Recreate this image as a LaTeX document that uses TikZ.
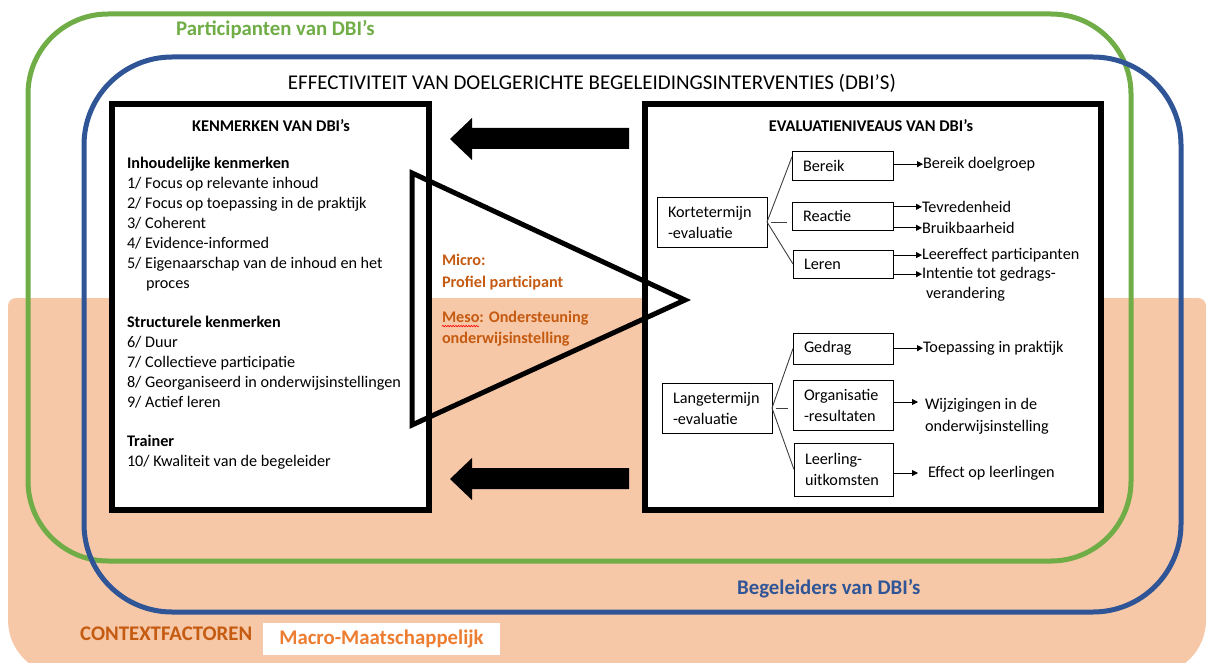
\documentclass[tikz,border=0pt]{standalone}
\usepackage{fontspec}
\setmainfont{Carlito}
\usetikzlibrary{arrows.meta,calc,decorations.pathmorphing}
\definecolor{peach}{HTML}{F7C8A7}
\definecolor{dgreen}{HTML}{70AD47}
\definecolor{dblue}{HTML}{2F5597}
\definecolor{ctxbrown}{HTML}{C55A11}
\definecolor{macroorange}{HTML}{ED7D31}
\begin{document}
\begin{tikzpicture}[x=1pt,y=-1pt,
  txt/.style={font=\fontsize{16.2}{19}\selectfont, inner sep=0pt, outer sep=0pt, anchor=mid west, yshift=-3pt},
  btxt/.style={txt, font=\fontsize{16.2}{19}\selectfont\bfseries},
  mtxt/.style={txt, text=ctxbrown, font=\fontsize{16.2}{19}\selectfont\bfseries},
  sbox/.style={draw, fill=white, line width=0.9pt, inner xsep=11pt, inner ysep=0pt, outer sep=0pt,
    align=left, anchor=north west, font=\fontsize{16.2}{21}\selectfont},
  bigbox/.style={draw, fill=white, line width=6pt, outer sep=0pt, anchor=north west},
  arr/.style={-{Triangle[length=6pt,width=6pt]}, line width=0.9pt},
  fan/.style={line width=0.9pt, draw=black!75},
  ring/.style={line width=5pt},
  blockarrow/.style={fill=black},
  lbl/.style={font=\fontsize{20.8}{24}\selectfont\bfseries, anchor=mid west, inner sep=0pt}
]
\useasboundingbox (0,0) rectangle (1206,663);
% context background
\fill[peach, rounded corners=8] (8,298) rectangle (1206,420);
\fill[peach, rounded corners=55] (8,340) rectangle (1206,675);
% rings
\draw[ring, draw=dgreen, rounded corners=80] (28,14) rectangle (1131,561);
\draw[ring, draw=dblue, rounded corners=88] (84,57) rectangle (1181,612);
\node[lbl, text=dgreen] (part) at (176,33) {Participanten van DBI’s};
\node[lbl, text=dblue] (beg) at (737,592) {Begeleiders van DBI’s};
\node[lbl, text=ctxbrown] (ctx) at (80,638) {CONTEXTFACTOREN};
\node[fill=white, minimum width=237, minimum height=32, anchor=north west, outer sep=0pt,
  font=\fontsize{20.8}{24}\selectfont\bfseries, text=macroorange] (macro) at (263,623) {Macro-Maatschappelijk};
% title
\node[font=\fontsize{21}{25}\selectfont, inner sep=0pt] (title) at (592,83) {EFFECTIVITEIT VAN DOELGERICHTE BEGELEIDINGSINTERVENTIES (DBI’S)};
% big boxes
\node[bigbox, minimum width=317, minimum height=406] (left) at (112,104) {};
\node[bigbox, minimum width=456, minimum height=406] (right) at (645,104) {};
% left box text
\node[font=\fontsize{16.4}{19}\selectfont\bfseries, inner sep=0pt] (kenm) at (271,126) {KENMERKEN VAN DBI’s};
\node[btxt] (inh) at (127,163) {Inhoudelijke kenmerken};
\node[txt] (k1) at (127,183) {1/ Focus op relevante inhoud};
\node[txt] (k2) at (127,203) {2/ Focus op toepassing in de praktijk};
\node[txt] (k3) at (127,223) {3/ Coherent};
\node[txt] (k4) at (127,243) {4/ Evidence-informed};
\node[txt] (k5) at (127,263) {5/ Eigenaarschap van de inhoud en het};
\node[txt] (k5b) at (146,283) {proces};
\node[btxt] (str) at (127,322) {Structurele kenmerken};
\node[txt] (k6) at (127,342) {6/ Duur};
\node[txt] (k7) at (127,362) {7/ Collectieve participatie};
\node[txt] (k8) at (127,382) {8/ Georganiseerd in onderwijsinstellingen};
\node[txt] (k9) at (127,402) {9/ Actief leren};
\node[btxt] (tra) at (127,441) {Trainer};
\node[txt] (k10) at (127,461) {10/ Kwaliteit van de begeleider};
% right box
\node[font=\fontsize{16.4}{19}\selectfont\bfseries, inner sep=0pt] (evalt) at (871,126) {EVALUATIENIVEAUS VAN DBI’s};
\node[sbox, text width=88, minimum height=50] (kort) at (657,197) {Kortetermijn\\-evaluatie};
\node[sbox, text width=79, minimum height=29] (bereik) at (792,151) {Bereik};
\node[sbox, text width=79, minimum height=28] (reactie) at (792,202) {Reactie};
\node[sbox, text width=78, minimum height=28] (leren) at (793,250) {Leren};
\node[sbox, text width=88, minimum height=50] (lang) at (662,383) {Langetermijn\\-evaluatie};
\node[sbox, text width=78, minimum height=31] (gedrag) at (793,333) {Gedrag};
\node[sbox, text width=78, minimum height=50] (org) at (793,380) {Organisatie\\-resultaten};
\node[sbox, text width=77, minimum height=53] (leer) at (794,443) {Leerling-\\uitkomsten};
% outcomes
\node[txt] (bd) at (923,163) {Bereik doelgroep};
\node[txt] (tev) at (922,207) {Tevredenheid};
\node[txt] (bru) at (922,228) {Bruikbaarheid};
\node[txt] (lee) at (922,254) {Leereffect participanten};
\node[txt] (int) at (922,273) {Intentie tot gedrags-};
\node[txt] (ver) at (926,293) {verandering};
\node[txt] (toe) at (923,347) {Toepassing in praktijk};
\node[txt] (wij) at (925,404) {Wijzigingen in de};
\node[txt] (ond) at (925,426) {onderwijsinstelling};
\node[txt] (eff) at (928,472) {Effect op leerlingen};
\coordinate (wija) at (918,402);
\coordinate (effa) at (918,473);
\draw[arr] (bereik.east |- bd.west) -- (bd.west);
\draw[arr] (reactie.east |- tev.west) -- (tev.west);
\draw[arr] (reactie.east |- bru.west) -- (bru.west);
\draw[arr] (leren.east |- lee.west) -- (lee.west);
\draw[arr] (leren.east |- int.west) -- (int.west);
\draw[arr] (gedrag.east |- toe.west) -- (toe.west);
\draw[arr] (org.east |- wija) -- (wija);
\draw[arr] (leer.east |- effa) -- (effa);
% fans
\draw[fan] (kort.east) -- ($(bereik.west)!0.6!(bereik.north west)$);
\draw[fan] ([xshift=4pt]kort.east) -- ([xshift=-5pt]kort.east -| reactie.west);
\draw[fan] (kort.east) -- (leren.west);
\draw[fan] (lang.east) -- (gedrag.west);
\draw[fan] ([xshift=4pt]lang.east) -- ([xshift=-5pt]lang.east -| org.west);
\draw[fan] (lang.east) -- (leer.west);
% block arrows
\fill[blockarrow] (450,139) -- (472,118) -- (472,128) -- (629,128) -- (629,149) -- (472,149) -- (472,160) -- cycle;
\fill[blockarrow] (450,479) -- (472,458) -- (472,468) -- (629,468) -- (629,489) -- (472,489) -- (472,500) -- cycle;
% micro / meso
\node[mtxt] (micro) at (442,260) {Micro:};
\node[mtxt] (prof) at (442,282) {Profiel participant};
\node[mtxt] (meso) at (442,317) {Meso: Ondersteuning};
\node[mtxt] (onder) at (442,338) {onderwijsinstelling};
\draw[red, line width=0.6pt, decorate, decoration={snake, amplitude=0.7pt, segment length=2.6pt}] ($(meso.west)+(0,8)$) -- ++(37,0);
% triangle
\draw[line width=5pt, miter limit=10] (412,173) -- (685,300) -- (412,425) -- cycle;
\end{tikzpicture}
\end{document}
